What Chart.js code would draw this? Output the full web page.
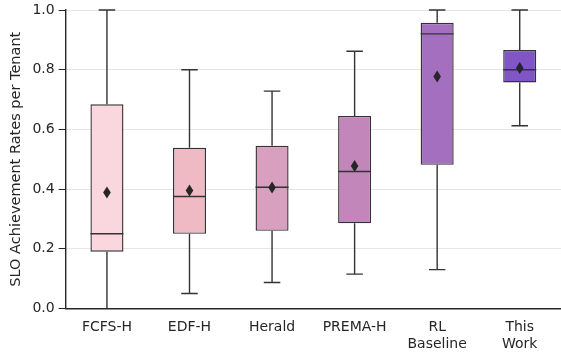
<!DOCTYPE html>
<html lang="en">
<head>
  <meta charset="UTF-8">
  <title>SLO Achievement Rates per Tenant</title>
  <style>
    body { margin: 0; padding: 0; background: #fff; }
    #wrap { width: 561px; height: 352px; }
  </style>
</head>
<body>
  <div id="wrap"><canvas id="boxChart" width="561" height="352"></canvas></div>

  <script src="https://cdn.jsdelivr.net/npm/chart.js"></script>
  <script>
    // categories and box statistics
    var labels = ['FCFS-H', 'EDF-H', 'Herald', 'PREMA-H', ['RL', 'Baseline'], ['This', 'Work']];
    var whiskerLow  = [0.00, 0.05, 0.087, 0.115, 0.13, 0.612];
    var q1          = [0.19, 0.25, 0.26, 0.285, 0.481, 0.757];
    var median      = [0.25, 0.375, 0.406, 0.459, 0.92, 0.80];
    var q3          = [0.684, 0.538, 0.545, 0.645, 0.957, 0.866];
    var whiskerHigh = [1.00, 0.80, 0.728, 0.862, 1.00, 1.00];
    var mean        = [0.388, 0.395, 0.405, 0.477, 0.777, 0.806];
    var yTicks      = [0.0, 0.2, 0.4, 0.6, 0.8, 1.0];
    var colors = ['#fad7df', '#efbac4', '#d99fbf', '#c286bb', '#a56fc0', '#8155c6'];

    var ink = '#262626';
    var edge = '#333333';

    // whiskers, median and mean marker on top of the floating bars
    var boxExtras = {
      id: 'boxExtras',
      afterDatasetsDraw: function(chart) {
        var ctx = chart.ctx;
        var y = chart.scales.y;
        var meta = chart.getDatasetMeta(0);
        ctx.save();
        meta.data.forEach(function(bar, i) {
          var cx = bar.x;
          var half = bar.width / 2;
          var cap = half / 2;
          ctx.strokeStyle = edge;
          ctx.lineWidth = 1.4;
          ctx.beginPath();
          ctx.moveTo(cx, y.getPixelForValue(q3[i]));
          ctx.lineTo(cx, y.getPixelForValue(whiskerHigh[i]));
          ctx.moveTo(cx, y.getPixelForValue(q1[i]));
          ctx.lineTo(cx, y.getPixelForValue(whiskerLow[i]));
          if (whiskerLow[i] > 0) {
            ctx.moveTo(cx - cap, y.getPixelForValue(whiskerLow[i]));
            ctx.lineTo(cx + cap, y.getPixelForValue(whiskerLow[i]));
          }
          ctx.moveTo(cx - cap, y.getPixelForValue(whiskerHigh[i]));
          ctx.lineTo(cx + cap, y.getPixelForValue(whiskerHigh[i]));
          ctx.stroke();

          ctx.beginPath();
          ctx.moveTo(cx - half, y.getPixelForValue(median[i]));
          ctx.lineTo(cx + half, y.getPixelForValue(median[i]));
          ctx.stroke();

          var my = y.getPixelForValue(mean[i]);
          ctx.fillStyle = ink;
          ctx.beginPath();
          ctx.moveTo(cx, my - 6);
          ctx.lineTo(cx + 3.8, my);
          ctx.lineTo(cx, my + 6);
          ctx.lineTo(cx - 3.8, my);
          ctx.closePath();
          ctx.fill();
        });
        ctx.restore();
      }
    };

    var boxes = q1.map(function(v, i) { return [v, q3[i]]; });

    new Chart(document.getElementById('boxChart'), {
      type: 'bar',
      data: {
        labels: labels,
        datasets: [{
          data: boxes,
          backgroundColor: colors,
          borderColor: edge,
          borderWidth: 1.4,
          borderSkipped: false,
          categoryPercentage: 1.0,
          barPercentage: 0.4
        }]
      },
      options: {
        responsive: false,
        animation: false,
        layout: { padding: { top: 0, right: 0, left: 8, bottom: -5 } },
        plugins: {
          legend: { display: false },
          tooltip: { enabled: false }
        },
        scales: {
          x: {
            grid: { display: false, drawTicks: true, tickLength: 7, tickColor: ink },
            border: { display: true, color: ink, width: 1.4 },
            ticks: {
              color: ink,
              font: { family: 'DejaVu Sans', size: 14 },
              padding: 4,
              maxRotation: 0,
              autoSkip: false
            }
          },
          y: {
            min: 0,
            max: 1,
            afterBuildTicks: function(axis) {
              axis.ticks = yTicks.map(function(v) { return { value: v }; });
            },
            afterFit: function(axis) {
              axis.paddingTop = 10;
            },
            grid: {
              color: '#e6e6e6',
              lineWidth: 1,
              tickLength: 7,
              tickColor: ink
            },
            border: { display: true, color: ink, width: 1.4 },
            ticks: {
              color: ink,
              font: { family: 'DejaVu Sans', size: 14 },
              padding: 4,
              callback: function(v) { return Number(v).toFixed(1); }
            },
            title: {
              display: true,
              text: 'SLO Achievement Rates per Tenant',
              color: ink,
              font: { family: 'DejaVu Sans', size: 14.5 },
              padding: { top: 0, bottom: 3 }
            }
          }
        }
      },
      plugins: [boxExtras]
    });
  </script>
</body>
</html>
